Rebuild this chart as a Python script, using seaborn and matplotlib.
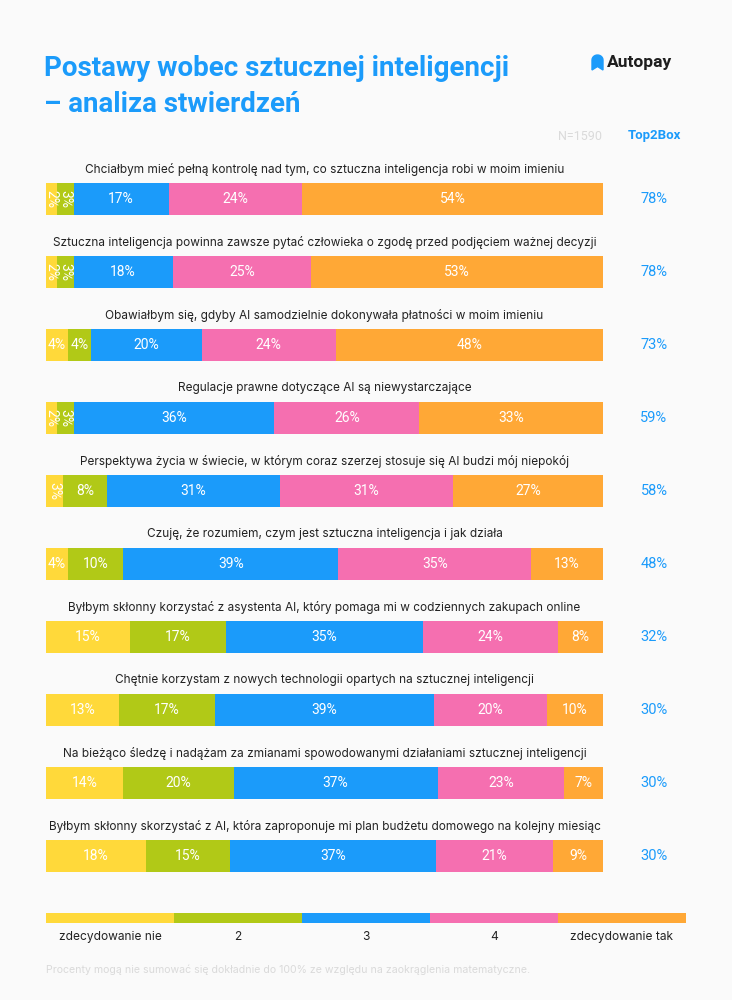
import numpy as np
import pandas as pd
import matplotlib
matplotlib.use("Agg")
import matplotlib.pyplot as plt
from matplotlib.patches import Polygon
import seaborn as sns

# data
questions = [
    "Chciałbym mieć pełną kontrolę nad tym, co sztuczna inteligencja robi w moim imieniu",
    "Sztuczna inteligencja powinna zawsze pytać człowieka o zgodę przed podjęciem ważnej decyzji",
    "Obawiałbym się, gdyby AI samodzielnie dokonywała płatności w moim imieniu",
    "Regulacje prawne dotyczące AI są niewystarczające",
    "Perspektywa życia w świecie, w którym coraz szerzej stosuje się AI budzi mój niepokój",
    "Czuję, że rozumiem, czym jest sztuczna inteligencja i jak działa",
    "Byłbym skłonny korzystać z asystenta AI, który pomaga mi w codziennych zakupach online",
    "Chętnie korzystam z nowych technologii opartych na sztucznej inteligencji",
    "Na bieżąco śledzę i nadążam za zmianami spowodowanymi działaniami sztucznej inteligencji",
    "Byłbym skłonny skorzystać z AI, która zaproponuje mi plan budżetu domowego na kolejny miesiąc",
]
scale_labels = ["zdecydowanie nie", "2", "3", "4", "zdecydowanie tak"]
v_nie = [2, 2, 4, 2, 3, 4, 15, 13, 14, 18]
v_2 = [3, 3, 4, 3, 8, 10, 17, 17, 20, 15]
v_3 = [17, 18, 20, 36, 31, 39, 35, 39, 37, 37]
v_4 = [24, 25, 24, 26, 31, 35, 24, 20, 23, 21]
v_tak = [54, 53, 48, 33, 27, 13, 8, 10, 7, 9]
top2box = [78, 78, 73, 59, 58, 48, 32, 30, 30, 30]

colors = ["#FFD93A", "#B1C917", "#1B9BFA", "#F56FB0", "#FFA836"]
bg = "#FAFAFA"
blue = "#1B9BFA"

vals = np.array([v_nie, v_2, v_3, v_4, v_tak], dtype=float).T
shares = vals / vals.sum(axis=1, keepdims=True) * 100
cum = shares.cumsum(axis=1)
df = pd.DataFrame(cum, columns=scale_labels)
df["q"] = questions

sns.set_style("white")
plt.rcParams["font.family"] = ["Inter", "DejaVu Sans"]

fig = plt.figure(figsize=(7.32, 10), dpi=100, facecolor=bg)

# main bars: x 46..603 px, rows centred at 199 + 73*i px
ax = fig.add_axes([46 / 732, 1 - 892.5 / 1000, 557 / 732, 730 / 1000])
ax.set_facecolor(bg)
for k in range(4, -1, -1):
    sns.barplot(data=df, x=scale_labels[k], y="q", color=colors[k], saturation=1,
                width=0.45, orient="h", linewidth=0, ax=ax)
ax.set_xlim(0, 100)
ax.set_ylim(len(questions) - 0.5, -0.5)
ax.axis("off")

for i, q in enumerate(questions):
    ax.text(50, i - 0.41, q, ha="center", va="center", fontsize=8.5, color="#222222")
    left = 0
    for k in range(5):
        w = shares[i, k]
        rot = -90 if vals[i, k] <= 3 else 0
        ax.text(left + w / 2, i, f"{int(vals[i, k])}%", ha="center", va="center",
                fontsize=10, color="white", rotation=rot, family=["Roboto", "DejaVu Sans"])
        left += w
    ax.text((654 - 46) / 557 * 100, i, f"{top2box[i]}%", ha="center", va="center",
            fontsize=10.5, color=blue, clip_on=False, family=["Roboto", "DejaVu Sans"])

# legend strip
lax = fig.add_axes([46 / 732, 1 - 923 / 1000, 640 / 732, 10 / 1000])
lax.barh([0] * 5, [1] * 5, left=np.arange(5), color=colors, height=1, align="center",
         linewidth=0)
lax.set_xlim(0, 5)
lax.set_ylim(-0.5, 0.5)
lax.axis("off")
for k, lab in enumerate(scale_labels):
    fig.text((46 + 128 * k + 64) / 732, 1 - 937 / 1000, lab, ha="center", va="center",
             fontsize=8.6, color="#222222")

# header
title_font = ["Roboto", "DejaVu Sans"]
fig.text(44 / 732, 1 - 68 / 1000, "Postawy wobec sztucznej inteligencji", ha="left",
         va="center", fontsize=20, fontweight="bold", color=blue, family=title_font)
fig.text(44 / 732, 1 - 104 / 1000, "– analiza stwierdzeń", ha="left",
         va="center", fontsize=20, fontweight="bold", color=blue, family=title_font)
fig.text(607 / 732, 1 - 63 / 1000, "Autopay", ha="left", va="center", fontsize=12.5,
         fontweight="bold", color="#1E1E1E", family=title_font)

# small bookmark-shaped logo mark
t = np.linspace(np.pi, 0, 12)
px = [592 + 5.5 + 5.5 * np.cos(a) for a in t] + [603, 597.5, 592]
py = [60 - 5 * np.sin(a) for a in t] + [70, 66.5, 70]
fig.patches.append(Polygon(np.column_stack([np.array(px) / 732, 1 - np.array(py) / 1000]),
                           closed=True, transform=fig.transFigure, color=blue))

fig.text(602 / 732, 1 - 136 / 1000, "N=1590", ha="right", va="center", fontsize=9,
         color="#DADADA", family=title_font)
fig.text(654 / 732, 1 - 136 / 1000, "Top2Box", ha="center", va="center", fontsize=9.5,
         fontweight="bold", color=blue, family=title_font)

fig.text(46 / 732, 1 - 970 / 1000,
         "Procenty mogą nie sumować się dokładnie do 100% ze względu na zaokrąglenia matematyczne.",
         ha="left", va="center", fontsize=7.6, color="#DADADA")

fig.savefig("out.png", dpi=100, facecolor=bg)
